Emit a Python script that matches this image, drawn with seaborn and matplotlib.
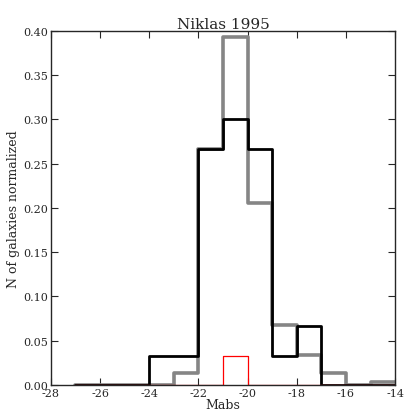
import numpy as np
import pandas as pd
import matplotlib
matplotlib.use("Agg")
import matplotlib.pyplot as plt
import seaborn as sns

bin_edges = [-27, -26, -25, -24, -23, -22, -21, -20, -19, -18, -17, -16, -15, -14]
gray_vals = [0, 0, 0, 0, 0.013, 0.267, 0.393, 0.206, 0.068, 0.034, 0.013, 0, 0.003]
black_vals = [0, 0, 0, 0.033, 0.033, 0.267, 0.300, 0.267, 0.033, 0.067, 0, 0, 0]
red_vals = [0, 0, 0, 0, 0, 0, 0.033, 0, 0, 0, 0, 0, 0]
xticks = [-28, -26, -24, -22, -20, -18, -16, -14]
yticks = [0.00, 0.05, 0.10, 0.15, 0.20, 0.25, 0.30, 0.35, 0.40]

sns.set_style("ticks")
plt.rcParams['font.family'] = ['DejaVu Serif']
plt.rcParams['xtick.direction'] = 'in'
plt.rcParams['ytick.direction'] = 'in'

centers = [(a + b) / 2 for a, b in zip(bin_edges[:-1], bin_edges[1:])]
df = pd.DataFrame({"x": centers, "gray": gray_vals, "black": black_vals, "red": red_vals})

fig = plt.figure(figsize=(4.04, 4.14), dpi=100)
ax = fig.add_axes([0.126, 0.068, 0.852, 0.855])

sns.histplot(data=df, x="x", weights="gray", bins=bin_edges, element="step", fill=False,
             color="#858585", linewidth=2.6, ax=ax)
sns.histplot(data=df, x="x", weights="black", bins=bin_edges, element="step", fill=False,
             color="black", linewidth=2.0, ax=ax)
sns.histplot(data=df, x="x", weights="red", bins=bin_edges, element="step", fill=False,
             color="red", linewidth=0.9, ax=ax)

ax.set_xlim(-28, -14)
ax.set_ylim(0, 0.40)
ax.set_xticks(xticks)
ax.set_xticklabels([str(t) for t in xticks], fontsize=8)
ax.set_yticks(yticks)
ax.set_yticklabels([f"{t:.2f}" for t in yticks], fontsize=8)
ax.tick_params(top=True, right=True, length=5, width=0.8, pad=2)
for s in ax.spines.values():
    s.set_visible(True)
    s.set_linewidth(1.0)
ax.set_xlabel("Mabs", fontsize=9, labelpad=0)
ax.set_ylabel("N of galaxies normalized", fontsize=9, labelpad=2)
ax.set_title("Niklas 1995", fontsize=11, pad=2)

fig.savefig("out.png", dpi=100)
